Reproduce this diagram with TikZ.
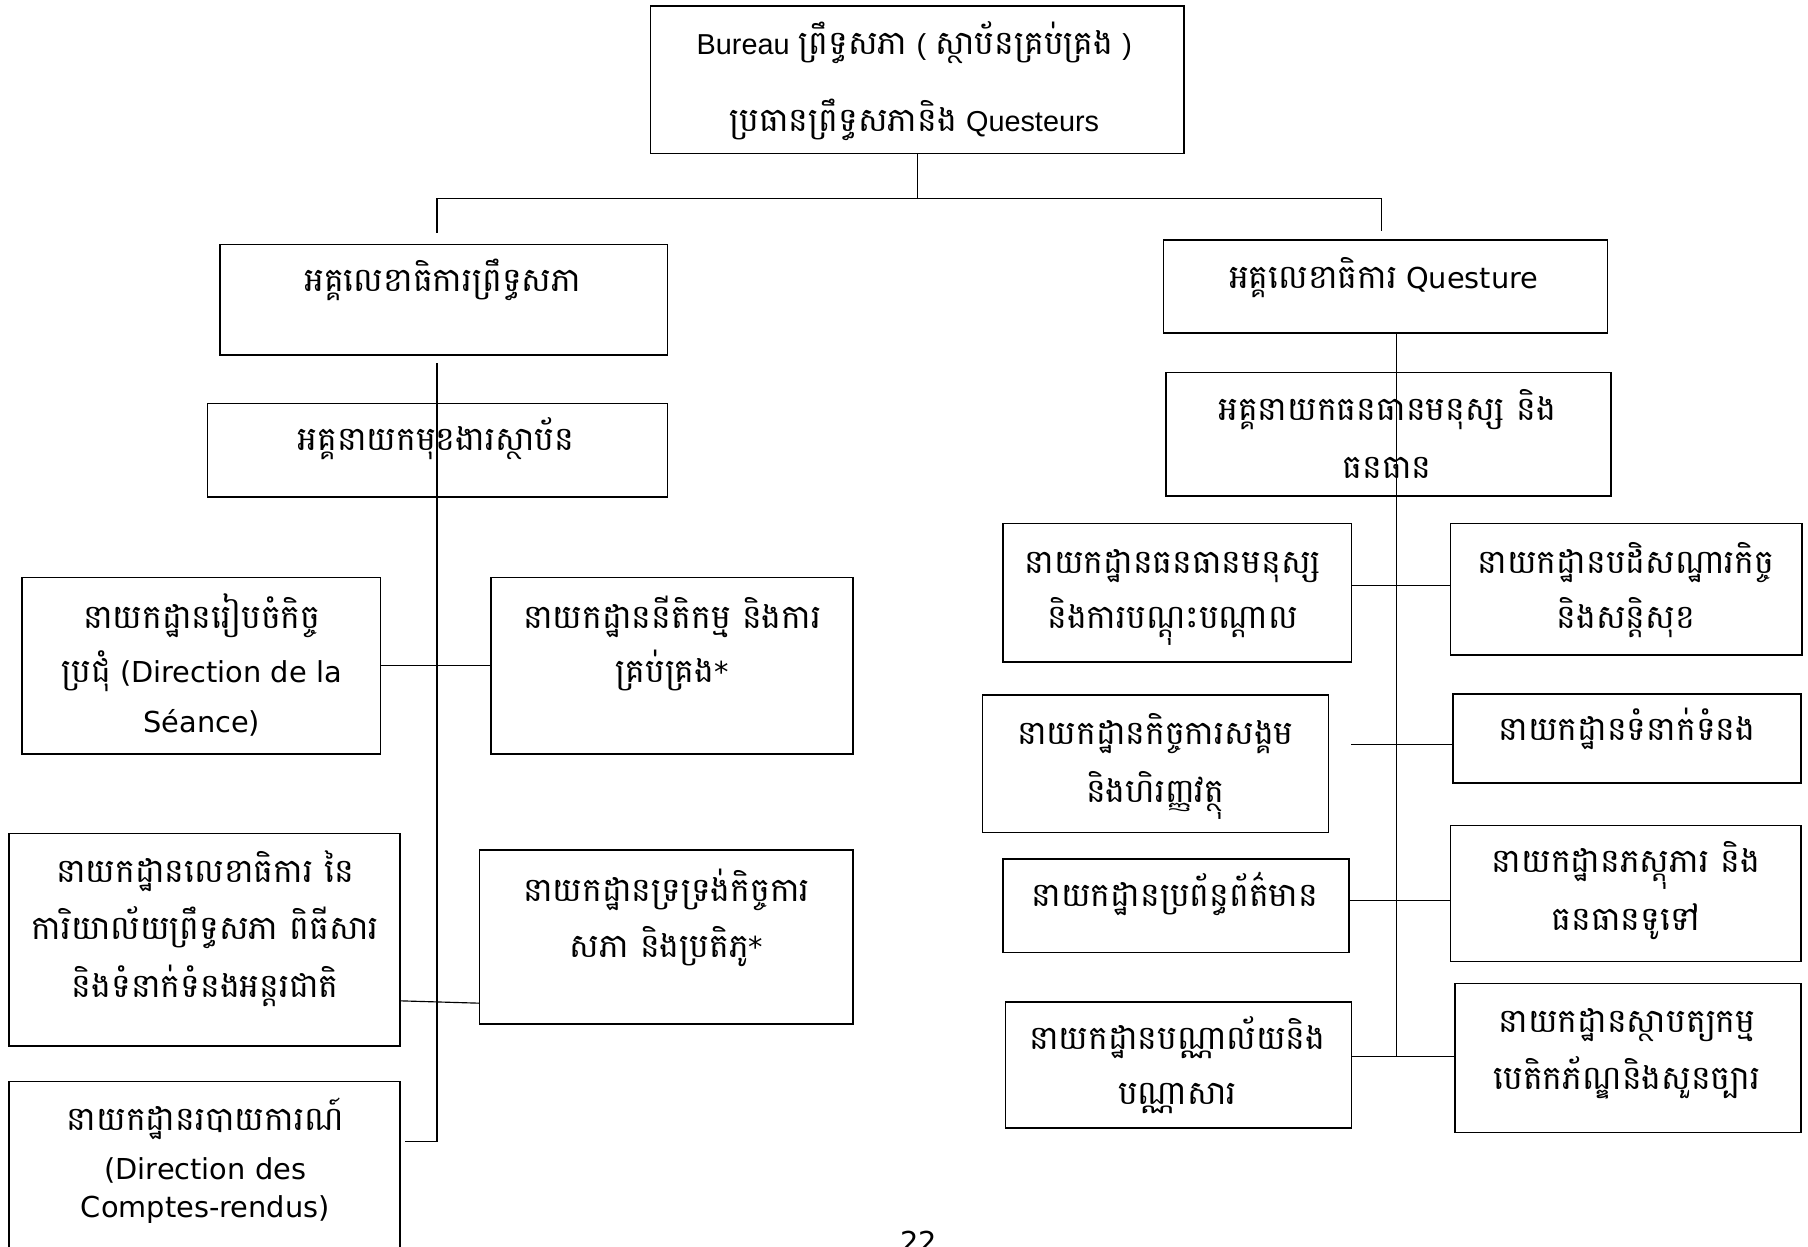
\documentclass[tikz,border=0pt]{standalone}
\usepackage{fontspec}
\setmainfont{DejaVu Sans}
\newfontfamily\kh[Script=Khmer,Scale=1.15]{Battambang}
\newfontfamily\ar{Liberation Sans}
\newcommand\mybox[5]{\node[box, minimum width={(#4-#2)*0.5pt}, minimum height={(#5-#3)*0.5pt}] (#1) at ({(#2+#4)/2},{(#3+#5)/2}) {};}
\begin{document}
\begin{tikzpicture}[x=0.5pt,y=-0.5pt,
  box/.style={draw, line width=0.7pt, inner sep=0pt},
  txt/.style={anchor=base, inner sep=0pt, font=\fontsize{12.5}{15}\selectfont},
  con/.style={draw, line width=0.5pt}]
\useasboundingbox (0,0) rectangle (1568,1081);
\clip (0,0) rectangle (1568,1081);
% boxes
\mybox{T}{564}{5}{1027}{133}
\mybox{L1}{191}{212}{579}{308}
\mybox{L2}{180}{350}{579}{431}
\mybox{LA}{19}{501}{330}{654}
\mybox{LB}{426}{501}{740}{654}
\mybox{LC}{8}{723}{347}{907}
\mybox{LD}{416}{737}{740}{888}
\mybox{LE}{8}{938}{347}{1120}
\mybox{R1}{1009}{208}{1394}{289}
\mybox{R2}{1011}{323}{1397}{430}
\mybox{RA1}{870}{454}{1172}{574}
\mybox{RB1}{1258}{454}{1563}{568}
\mybox{RA2}{852}{603}{1152}{722}
\mybox{RB2}{1260}{602}{1562}{679}
\mybox{RA3}{870}{745}{1170}{826}
\mybox{RB3}{1258}{716}{1562}{834}
\mybox{RA4}{872}{869}{1172}{978}
\mybox{RB4}{1262}{853}{1562}{982}
% texts
\node[txt] (T1) at (793,47) {{\ar Bureau} {\kh ព្រឹទ្ធសភា} {\ar (} {\kh ស្ថាប័នគ្រប់គ្រង} {\ar )}};
\node[txt] (T2) at (793,114) {{\kh ប្រធានព្រឹទ្ធសភានិង} {\ar Questeurs}};
\node[txt] (L1t) at (384,253) {\kh អគ្គលេខាធិការព្រឹទ្ធសភា};
\node[txt] (L2t) at (378,391) {\kh អគ្គនាយកមុខងារស្ថាប័ន};
\node[txt] (LAa) at (175,545) {\kh នាយកដ្ឋានរៀបចំកិច្ច};
\node[txt] (LAb) at (175,592) {{\kh ប្រជុំ} (Direction de la};
\node[txt] (LAc) at (175,635) {Séance)};
\node[txt] (LBa) at (583,545) {\kh នាយកដ្ឋាននីតិកម្ម និងការ};
\node[txt] (LBb) at (583,592) {{\kh គ្រប់គ្រង}*};
\node[txt] (LCa) at (178,765) {\kh នាយកដ្ឋានលេខាធិការ នៃ};
\node[txt] (LCb) at (178,815) {\kh ការិយាល័យព្រឹទ្ធសភា ពិធីសារ};
\node[txt] (LCc) at (178,865) {\kh និងទំនាក់ទំនងអន្តរជាតិ};
\node[txt] (LDa) at (578,782) {\kh នាយកដ្ឋានទ្រទ្រង់កិច្ចការ};
\node[txt] (LDb) at (578,830) {{\kh សភា និងប្រតិភូ}*};
\node[txt] (LEa) at (178,980) {\kh នាយកដ្ឋានរបាយការណ៍};
\node[txt] (LEb) at (178,1023) {(Direction des};
\node[txt] (LEc) at (178,1056) {Comptes-rendus)};
\node[txt] (R1t) at (1200,250) {{\kh អគ្គលេខាធិការ} Questure};
\node[txt] (R2a) at (1203,365) {\kh អគ្គនាយកធនធានមនុស្ស និង};
\node[txt] (R2b) at (1203,415) {\kh ធនធាន};
\node[txt] (RA1a) at (1017,497) {\kh នាយកដ្ឋានធនធានមនុស្ស};
\node[txt] (RA1b) at (1017,545) {\kh និងការបណ្ដុះបណ្ដាល};
\node[txt] (RB1a) at (1410,497) {\kh នាយកដ្ឋានបដិសណ្ឋារកិច្ច};
\node[txt] (RB1b) at (1410,545) {\kh និងសន្តិសុខ};
\node[txt] (RA2a) at (1002,646) {\kh នាយកដ្ឋានកិច្ចការសង្គម};
\node[txt] (RA2b) at (1002,696) {\kh និងហិរញ្ញវត្ថុ};
\node[txt] (RB2a) at (1411,642) {\kh នាយកដ្ឋានទំនាក់ទំនង};
\node[txt] (RA3a) at (1019,786) {\kh នាយកដ្ឋានប្រព័ន្ធព័ត៌មាន};
\node[txt] (RB3a) at (1410,757) {\kh នាយកដ្ឋានភស្តុភារ និង};
\node[txt] (RB3b) at (1410,807) {\kh ធនធានទូទៅ};
\node[txt] (RA4a) at (1021,910) {\kh នាយកដ្ឋានបណ្ណាល័យនិង};
\node[txt] (RA4b) at (1021,958) {\kh បណ្ណាសារ};
\node[txt] (RB4a) at (1411,895) {\kh នាយកដ្ឋានស្ថាបត្យកម្ម};
\node[txt] (RB4b) at (1411,945) {\kh បេតិកភ័ណ្ឌនិងសួនច្បារ};
\node[txt] (pg) at (797,1086) {22};
% coordinates
\coordinate (hl) at (379,172);
\coordinate (hr) at (1198,172);
\coordinate (tl) at (379,202);
\coordinate (tr) at (1198,200);
\coordinate (lv1) at (379,315);
\coordinate (lv2) at (379,990);
\coordinate (le) at (351,990);
\coordinate (c1) at (0,868);
\coordinate (c2) at (0,870);
\coordinate (rvx) at (1211,916);
\coordinate (y1) at (0,508);
\coordinate (y2a) at (1172,646);
\coordinate (y3) at (0,781);
% connectors
\draw[con] (T.south) -- (T.south |- hl);
\draw[con] (hl) -- (hr);
\draw[con] (hl) -- (tl);
\draw[con] (hr) -- (tr);
\draw[con] (lv1) -- (lv2) -- (le);
\draw[con] (LA.east) -- (LB.west);
\draw[con] (LC.east |- c1) -- (LD.west |- c2);
\draw[con] (R1.south -| rvx) -- (rvx);
\draw[con] (RA1.east |- y1) -- (RB1.west |- y1);
\draw[con] (y2a) -- (RB2.west |- y2a);
\draw[con] (RA3.east |- y3) -- (RB3.west |- y3);
\draw[con] (RA4.east |- rvx) -- (RB4.west |- rvx);
\end{tikzpicture}
\end{document}
